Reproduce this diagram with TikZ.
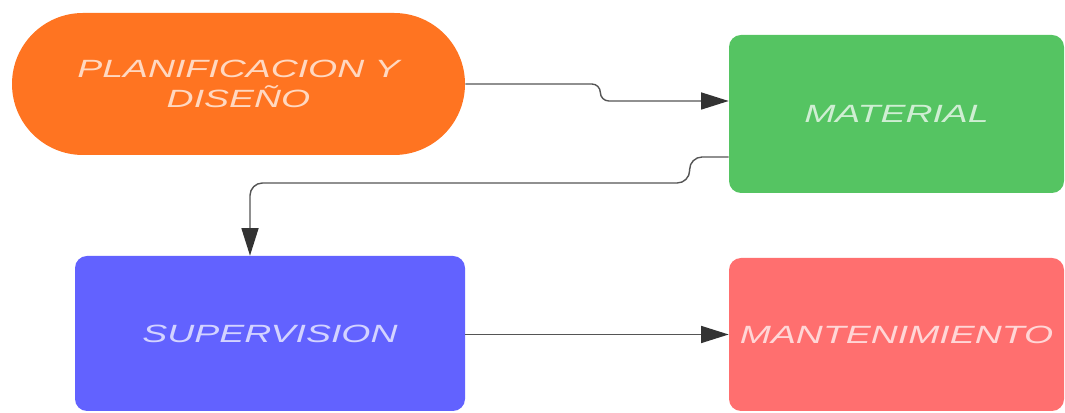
\documentclass[tikz,border=0pt]{standalone}
\usepackage{fontspec}
\newfontfamily\boxfont{Liberation Sans}[FakeStretch=1.5]
\usetikzlibrary{positioning, arrows.meta}
\definecolor{planorange}{HTML}{FF7421}
\definecolor{matgreen}{HTML}{55C462}
\definecolor{supblue}{HTML}{6262FF}
\definecolor{manred}{HTML}{FF6F6F}
\definecolor{linegray}{HTML}{555555}

\begin{document}
\begin{tikzpicture}[
    box/.style={rectangle, rounded corners=0.24cm, inner sep=0pt, align=center,
                text=white, text opacity=0.72,
                font=\boxfont\itshape\fontsize{14.2}{17.5}\selectfont},
    conn/.style={draw=linegray, line width=0.8pt, rounded corners=0.17cm,
                 -{Triangle[length=0.55cm, width=0.34cm, fill=black!80, color=black!80]}}
]
    % page size
    \useasboundingbox (0,0) rectangle (21.3,8.26);
    % steps
    \node[box, fill=planorange, rounded corners=1.42cm,
          minimum width=9.06cm, minimum height=2.84cm] (plan) at (4.77,6.58)
          {PLANIFICACION Y\\ DISEÑO};
    \node[box, fill=matgreen, minimum width=6.7cm, minimum height=3.16cm] (mat) at (17.93,5.98) {MATERIAL};
    \node[box, fill=supblue, minimum width=7.8cm, minimum height=3.1cm] (sup) at (5.4,1.59) {SUPERVISION};
    \node[box, fill=manred, minimum width=6.7cm, minimum height=3.06cm] (man) at (17.93,1.57) {MANTENIMIENTO};
    % connectors
    \draw[conn] (plan.east) -- ++(2.7,0) |- ([yshift=0.26cm]mat.west);
    \draw[conn, rounded corners=0.25cm] ([yshift=-0.86cm]mat.west) -- ++(-0.78,0) -- ++(0,-0.52)
        -| ([xshift=-0.4cm]sup.north);
    \draw[conn] (sup.east |- man.west) -- (man.west);
\end{tikzpicture}
\end{document}
